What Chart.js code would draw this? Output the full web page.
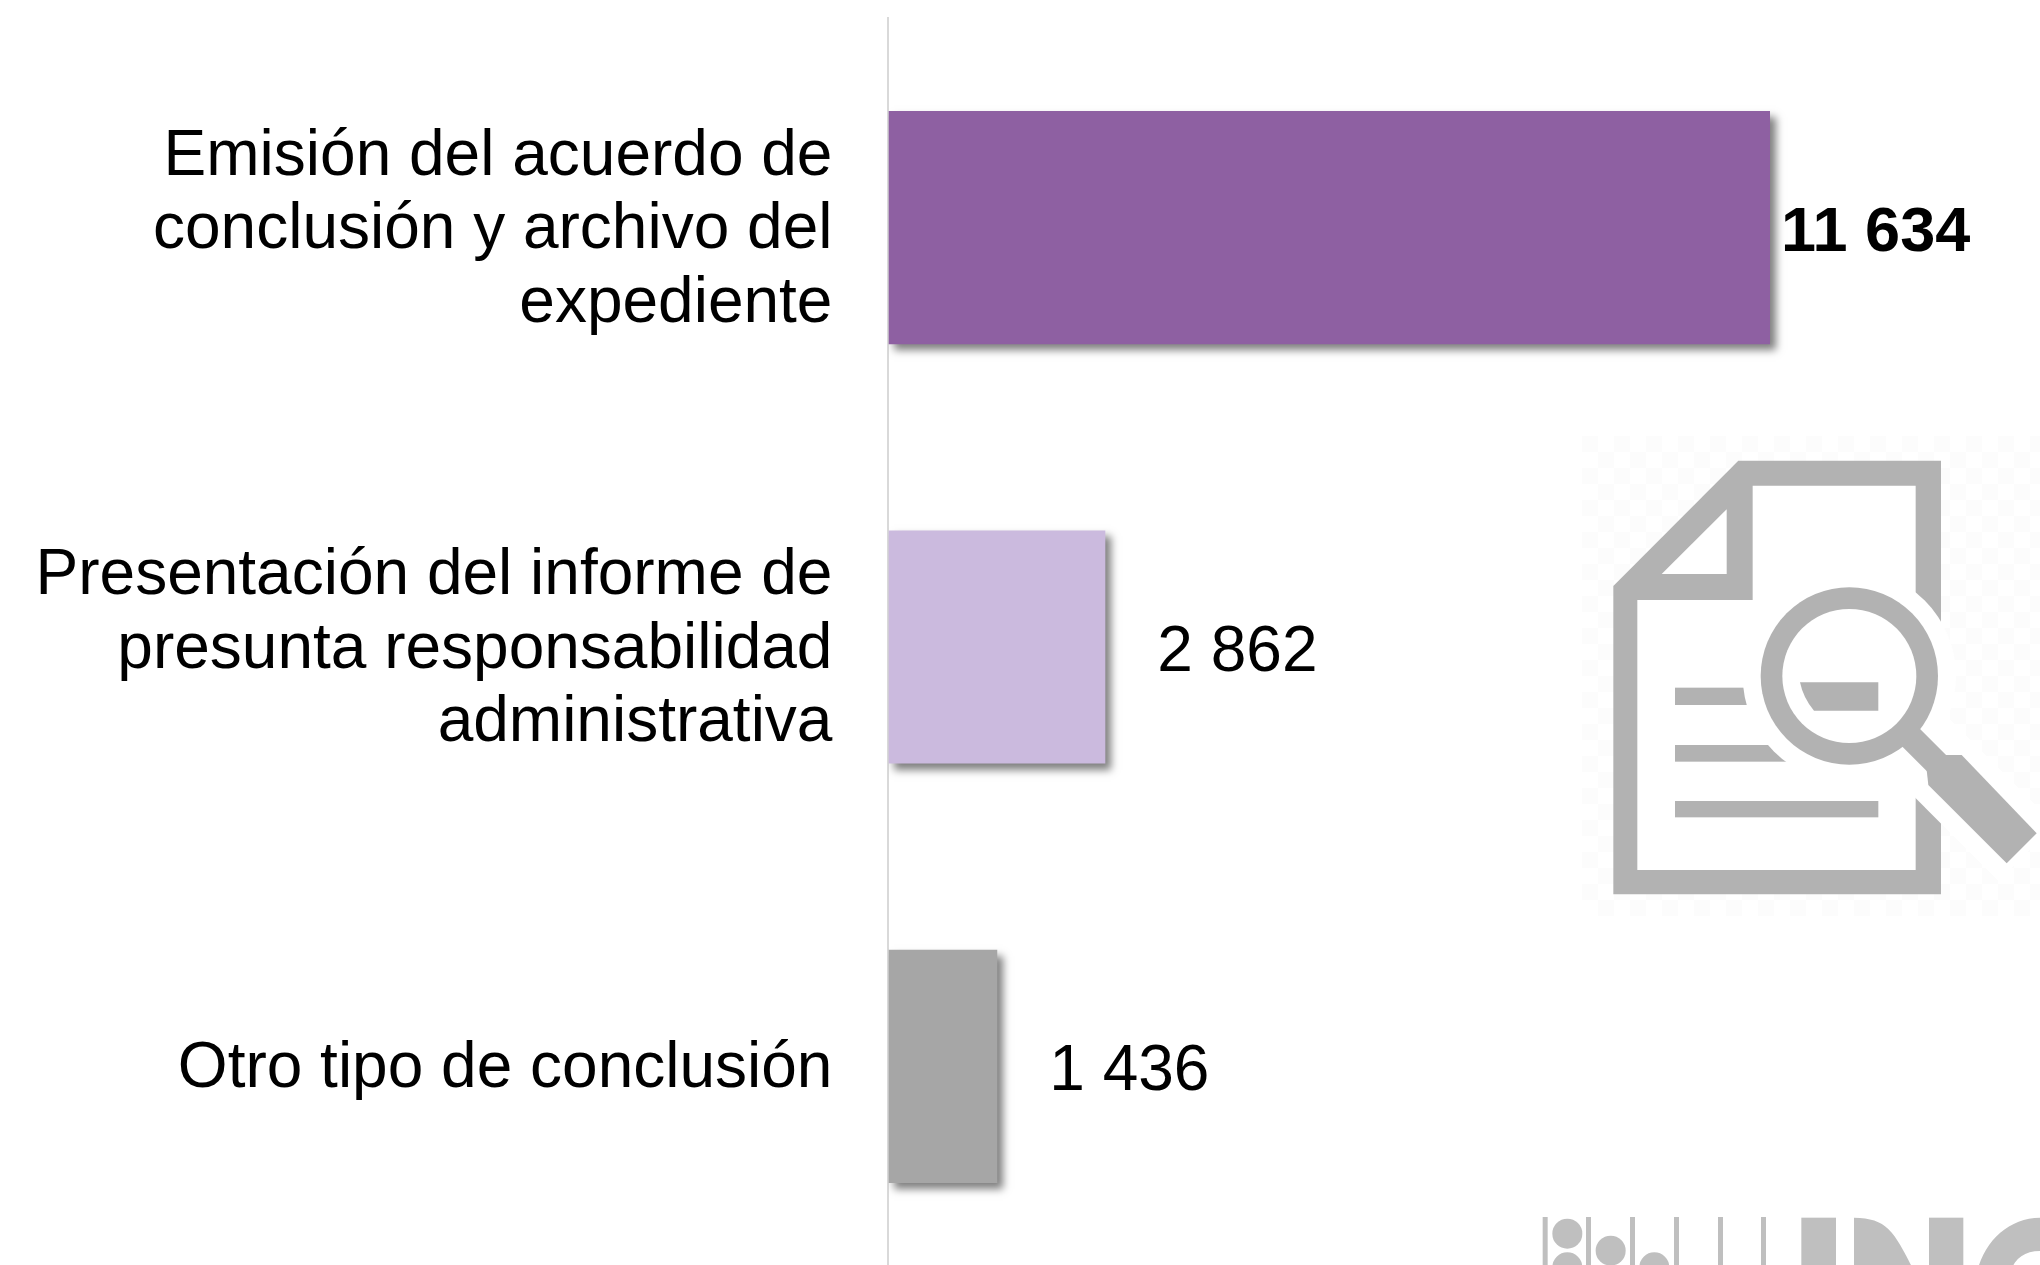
<!DOCTYPE html>
<html lang="es">
<head>
<meta charset="UTF-8">
<title>Conclusión de expedientes</title>
<script src="https://cdn.jsdelivr.net/npm/chart.js@4/dist/chart.umd.min.js"></script>
<style>
    html, body {
        margin: 0;
        padding: 0;
        background: #fff;
        overflow: hidden;
    }
    #wrap {
        width: 2040px;
        height: 1265px;
        overflow: hidden;
    }
    canvas {
        display: block;
    }
</style>
</head>
<body>
<div id="wrap"><canvas id="chart" width="2040" height="1276"></canvas></div>
<script>
const categories = [
    ['Emisión del acuerdo de', 'conclusión y archivo del', 'expediente'],
    ['Presentación del informe de', 'presunta responsabilidad', 'administrativa'],
    'Otro tipo de conclusión'
];
const values = [11634, 2862, 1436];
const valueLabels = ['11 634', '2 862', '1 436'];
const barColors = ['#8e60a2', '#cbbade', '#a6a6a6'];
const labelWeights = ['bold', 'normal', 'normal'];
const labelSizes = [63, 64, 64];
const labelGaps = [11, 52, 52]; // distance from bar end to its number

const FONT = '"Liberation Sans", Arial, sans-serif';

// shadow under the bars
const barShadow = {
    id: 'barShadow',
    beforeDatasetDraw(chart) {
        const ctx = chart.ctx;
        ctx.save();
        ctx.shadowColor = 'rgba(0,0,0,0.5)';
        ctx.shadowBlur = 8;
        ctx.shadowOffsetX = 6;
        ctx.shadowOffsetY = 6;
    },
    afterDatasetDraw(chart) {
        chart.ctx.restore();
    }
};

// numbers next to the bars
const valueText = {
    id: 'valueText',
    afterDatasetsDraw(chart) {
        const ctx = chart.ctx;
        const bars = chart.getDatasetMeta(0).data;
        ctx.save();
        ctx.fillStyle = '#000';
        ctx.textAlign = 'left';
        ctx.textBaseline = 'alphabetic';
        bars.forEach((bar, i) => {
            ctx.font = labelWeights[i] + ' ' + labelSizes[i] + 'px ' + FONT;
            ctx.fillText(valueLabels[i], bar.x + labelGaps[i], bar.y + 23.5);
        });
        ctx.restore();
    }
};

function poly(ctx, pts, color) {
    ctx.fillStyle = color;
    ctx.beginPath();
    pts.forEach((p, i) => i ? ctx.lineTo(p[0], p[1]) : ctx.moveTo(p[0], p[1]));
    ctx.closePath();
    ctx.fill();
}

function disc(ctx, x, y, r, color) {
    ctx.fillStyle = color;
    ctx.beginPath();
    ctx.arc(x, y, r, 0, Math.PI * 2);
    ctx.fill();
}

// document + magnifier icon, coordinates are 3x from its top-left corner
function drawIcon(ctx) {
    const gray = '#b2b2b2';
    ctx.save();
    ctx.fillStyle = '#fcfcfc';
    for (let r = 0; r < 30; r++) {
        for (let c = 0; c < 29; c++) {
            if ((r + c) % 2 === 0) ctx.fillRect(1582 + c * 16, 436 + r * 16, 16, 16);
        }
    }
    ctx.translate(1560, 420);
    ctx.scale(1 / 3, 1 / 3);
    poly(ctx, [[160, 498], [535, 122], [1143, 122], [1143, 1423], [160, 1423]], gray);
    poly(ctx, [[232, 540], [578, 540], [578, 197], [1067, 197], [1067, 1350], [232, 1350]], '#fff');
    poly(ctx, [[305, 462], [500, 462], [500, 268]], '#fff');
    ctx.fillStyle = gray;
    ctx.fillRect(345, 803, 230, 52);
    ctx.fillRect(345, 975, 340, 50);
    ctx.fillRect(345, 1143, 610, 49);
    // white halo around lens and handle
    disc(ctx, 868, 768, 320, '#fff');
    ctx.strokeStyle = '#fff';
    ctx.lineWidth = 240;
    ctx.beginPath();
    ctx.moveTo(1000, 898);
    ctx.lineTo(1400, 1298);
    ctx.stroke();
    // lens
    disc(ctx, 868, 768, 266, gray);
    disc(ctx, 868, 768, 201, '#fff');
    ctx.fillStyle = gray;
    ctx.beginPath();
    ctx.moveTo(720, 787);
    ctx.lineTo(955, 787);
    ctx.lineTo(955, 872);
    ctx.lineTo(762, 872);
    ctx.quadraticCurveTo(730, 835, 720, 787);
    ctx.closePath();
    ctx.fill();
    // handle
    ctx.strokeStyle = gray;
    ctx.lineWidth = 75;
    ctx.beginPath();
    ctx.moveTo(1050, 950);
    ctx.lineTo(1170, 1070);
    ctx.stroke();
    poly(ctx, [[1150, 1005], [1205, 1005], [1430, 1240], [1340, 1330], [1105, 1095], [1100, 1050]], gray);
    ctx.restore();
}

// top of the logo, cut by the page edge
function drawLogo(ctx) {
    const gray = '#bfbfbf';
    ctx.save();
    ctx.translate(1540, 1180);
    ctx.scale(1 / 3, 1 / 3);
    ctx.fillStyle = gray;
    [8, 138, 270, 402, 534, 663].forEach(x => ctx.fillRect(x, 111, 15, 160));
    disc(ctx, 82, 161, 45, gray);
    disc(ctx, 82, 262, 45, gray);
    disc(ctx, 212, 212, 45, gray);
    disc(ctx, 343, 262, 45, gray);
    ctx.fillStyle = gray;
    ctx.fillRect(784, 113, 104, 160);
    ctx.fillRect(1167, 113, 103, 160);
    ctx.beginPath();
    ctx.moveTo(942, 113);
    ctx.bezierCurveTo(1040, 115, 1060, 150, 1122, 273);
    ctx.lineTo(942, 273);
    ctx.closePath();
    ctx.fill();
    ctx.beginPath();
    ctx.moveTo(1500, 113);
    ctx.bezierCurveTo(1410, 113, 1335, 180, 1312, 273);
    ctx.lineTo(1412, 273);
    ctx.bezierCurveTo(1425, 235, 1455, 213, 1500, 213);
    ctx.closePath();
    ctx.fill();
    ctx.restore();
}

const decorations = {
    id: 'decorations',
    beforeDatasetsDraw(chart) {
        drawIcon(chart.ctx);
        drawLogo(chart.ctx);
    }
};

new Chart(document.getElementById('chart').getContext('2d'), {
    type: 'bar',
    data: {
        labels: categories,
        datasets: [{
            data: values,
            backgroundColor: barColors,
            borderWidth: 0,
            categoryPercentage: 1,
            barPercentage: 0.556
        }]
    },
    plugins: [decorations, barShadow, valueText],
    options: {
        indexAxis: 'y',
        responsive: false,
        animation: false,
        devicePixelRatio: 1,
        layout: { padding: { top: 18, left: 0, right: 0, bottom: 0 } },
        plugins: {
            legend: { display: false },
            title: { display: false },
            tooltip: { enabled: false }
        },
        scales: {
            x: {
                min: 0,
                max: 15197,
                display: false,
                grid: { display: false }
            },
            y: {
                afterFit(scale) {
                    scale.width = 888.45;
                    // labels must not squeeze the plot
                    scale.paddingTop = 0;
                    scale.paddingBottom = 0;
                    // category text sits a little below the bar centre
                    if (!scale.shiftedLabels) {
                        const drawLabels = scale.drawLabels;
                        scale.drawLabels = function (area) {
                            this.ctx.save();
                            this.ctx.translate(0, 3);
                            drawLabels.call(this, area);
                            this.ctx.restore();
                        };
                        scale.shiftedLabels = true;
                    }
                },
                grid: { display: false, drawTicks: false },
                border: { display: true, color: '#d9d9d9', width: 2 },
                ticks: {
                    autoSkip: false,
                    maxRotation: 0,
                    minRotation: 0,
                    padding: 56,
                    color: '#000',
                    font: { family: FONT, size: 64, lineHeight: 1.15 }
                }
            }
        }
    }
});
</script>
</body>
</html>
